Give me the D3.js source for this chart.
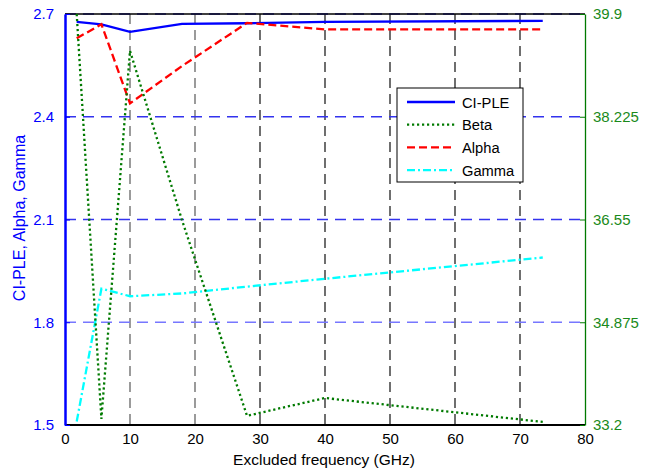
<!DOCTYPE html>
<html>
<head>
<meta charset="utf-8">
<script src="https://cdn.jsdelivr.net/npm/d3@7"></script>
<style>
  body { margin: 0; background: #fff; }
  text { font-family: "Liberation Sans", Arial, sans-serif; }
</style>
</head>
<body>
<div id="chart"></div>
<script>
// excluded frequency (GHz) and fitted parameters
var freqs  = [1.8, 5.6, 10, 18, 28, 40, 73.5];
var ciple  = [2.677, 2.670, 2.648, 2.671, 2.673, 2.677, 2.680];
var alpha  = [2.629, 2.670, 2.439, 2.548, 2.674, 2.655, 2.655];
var gamma  = [1.510, 1.898, 1.876, 1.884, 1.904, 1.927, 1.989];
var beta   = [39.9, 33.30, 39.30, 36.54, 33.35, 33.64, 33.25];

var xTicks = [0, 10, 20, 30, 40, 50, 60, 70, 80];
var leftTicks = [1.5, 1.8, 2.1, 2.4, 2.7];
var rightTicks = [33.2, 34.875, 36.55, 38.225, 39.9];

var W = 668, H = 473;
var margin = { top: 14, right: 83, bottom: 48, left: 65 };
var width = W - margin.left - margin.right,
    height = H - margin.top - margin.bottom;

var svg = d3.select("#chart").append("svg")
    .attr("width", W).attr("height", H);

var g = svg.append("g")
    .attr("transform", "translate(" + margin.left + "," + margin.top + ")");

var x = d3.scaleLinear().domain([0, 80]).range([0, width]);
var yL = d3.scaleLinear().domain([1.5, 2.7]).range([height, 0]);
var yR = d3.scaleLinear().domain([33.2, 39.9]).range([height, 0]);

// grid
g.selectAll(".vgrid")
  .data(xTicks.slice(1, -1))
  .enter().append("line")
    .attr("x1", function(d) { return x(d); })
    .attr("x2", function(d) { return x(d); })
    .attr("y1", 0).attr("y2", height)
    .attr("stroke", function(d) { return d <= 20 ? "#666" : "#222"; })
    .attr("stroke-width", 1.3)
    .attr("stroke-dasharray", "10,6");

g.selectAll(".hgrid")
  .data(leftTicks.slice(1))
  .enter().append("line")
    .attr("x1", 0).attr("x2", width)
    .attr("y1", function(d) { return yL(d); })
    .attr("y2", function(d) { return yL(d); })
    .attr("stroke", function(d) { return d == 1.8 ? "#7777ff" : "#3333ee"; })
    .attr("stroke-width", 1.3)
    .attr("stroke-dasharray", "11,7");

// box lines
g.append("line").attr("x1", 0).attr("x2", width).attr("y1", 0).attr("y2", 0)
  .attr("stroke", "#000").attr("stroke-width", 1.5);
g.append("line").attr("x1", 0).attr("x2", width).attr("y1", height).attr("y2", height)
  .attr("stroke", "#000").attr("stroke-width", 2);

// axes
var xAxis = d3.axisBottom(x).tickValues(xTicks).tickSize(0).tickPadding(8);
var gx = g.append("g").attr("transform", "translate(0," + height + ")").call(xAxis);
gx.select(".domain").remove();
gx.selectAll("text").attr("font-size", 15).attr("fill", "#000")
  .style("font-family", "Liberation Sans, Arial, sans-serif");

var lAxis = d3.axisLeft(yL).tickValues(leftTicks).tickSizeInner(-5).tickSizeOuter(0).tickPadding(11)
  .tickFormat(d3.format(".1f"));
var gl = g.append("g").call(lAxis);
gl.select(".domain").attr("stroke", "#0000ff").attr("stroke-width", 2.5);
gl.selectAll(".tick line").attr("stroke", "#0000ff");
gl.selectAll("text").attr("font-size", 15).attr("fill", "#0000ff")
  .style("font-family", "Liberation Sans, Arial, sans-serif");

var rAxis = d3.axisRight(yR).tickValues(rightTicks).tickSizeInner(-5).tickSizeOuter(0).tickPadding(8)
  .tickFormat(function(d) { return String(d); });
var gr = g.append("g").attr("transform", "translate(" + width + ",0)").call(rAxis);
gr.select(".domain").attr("stroke", "#007a00").attr("stroke-width", 1.3);
gr.selectAll(".tick line").attr("stroke", "#007a00");
gr.selectAll("text").attr("font-size", 15).attr("fill", "#1a8a1a")
  .style("font-family", "Liberation Sans, Arial, sans-serif");

// lines
var series = [
  { name: "CI-PLE", vals: ciple, y: yL, color: "#0000ff", dash: null },
  { name: "Alpha",  vals: alpha, y: yL, color: "#ff0000", dash: "8,4" },
  { name: "Gamma",  vals: gamma, y: yL, color: "#00ffff", dash: "8,3,2,3" },
  { name: "Beta",   vals: beta,  y: yR, color: "#007a00", dash: "2.2,2.8" }
];

series.forEach(function(s) {
  var line = d3.line()
    .x(function(d, i) { return x(freqs[i]); })
    .y(function(d) { return s.y(d); });
  g.append("path")
    .datum(s.vals)
    .attr("d", line)
    .attr("fill", "none")
    .attr("stroke", s.color)
    .attr("stroke-width", 2.3)
    .attr("stroke-dasharray", s.dash);
});

// axis titles
svg.append("text")
  .attr("transform", "translate(25,218) rotate(-90)")
  .attr("text-anchor", "middle")
  .attr("font-size", 16)
  .attr("fill", "#0000ff")
  .text("CI-PLE, Alpha, Gamma");

svg.append("text")
  .attr("x", 324)
  .attr("y", 465)
  .attr("text-anchor", "middle")
  .attr("font-size", 15.5)
  .attr("fill", "#000")
  .text("Excluded frequency (GHz)");

svg.append("clipPath").attr("id", "clipR")
  .append("rect").attr("x", 600).attr("y", 0).attr("width", 52).attr("height", H);
svg.append("text")
  .attr("clip-path", "url(#clipR)")
  .attr("transform", "translate(655,222) rotate(-90)")
  .attr("text-anchor", "middle")
  .attr("font-size", 15.5)
  .attr("fill", "#1a8a1a")
  .text("Beta");

// legend
var legendItems = [
  { name: "CI-PLE", color: "#0000ff", dash: null },
  { name: "Beta",   color: "#007a00", dash: "2.2,2.8" },
  { name: "Alpha",  color: "#ff0000", dash: "8,4" },
  { name: "Gamma",  color: "#00ffff", dash: "8,3,2,3" }
];
var lg = svg.append("g").attr("transform", "translate(397,88)");
lg.append("rect")
  .attr("width", 126).attr("height", 94)
  .attr("fill", "#fff").attr("stroke", "#000").attr("stroke-width", 1);
var items = lg.selectAll(".legend")
  .data(legendItems)
  .enter().append("g")
    .attr("transform", function(d, i) { return "translate(0," + (14 + i * 22.7) + ")"; });
items.append("line")
  .attr("x1", 10).attr("x2", 58).attr("y1", 0).attr("y2", 0)
  .attr("stroke", function(d) { return d.color; })
  .attr("stroke-width", 2.3)
  .attr("stroke-dasharray", function(d) { return d.dash; });
items.append("text")
  .attr("x", 65).attr("y", 5.5)
  .attr("font-size", 14.7)
  .attr("fill", "#000")
  .text(function(d) { return d.name; });
</script>
</body>
</html>
